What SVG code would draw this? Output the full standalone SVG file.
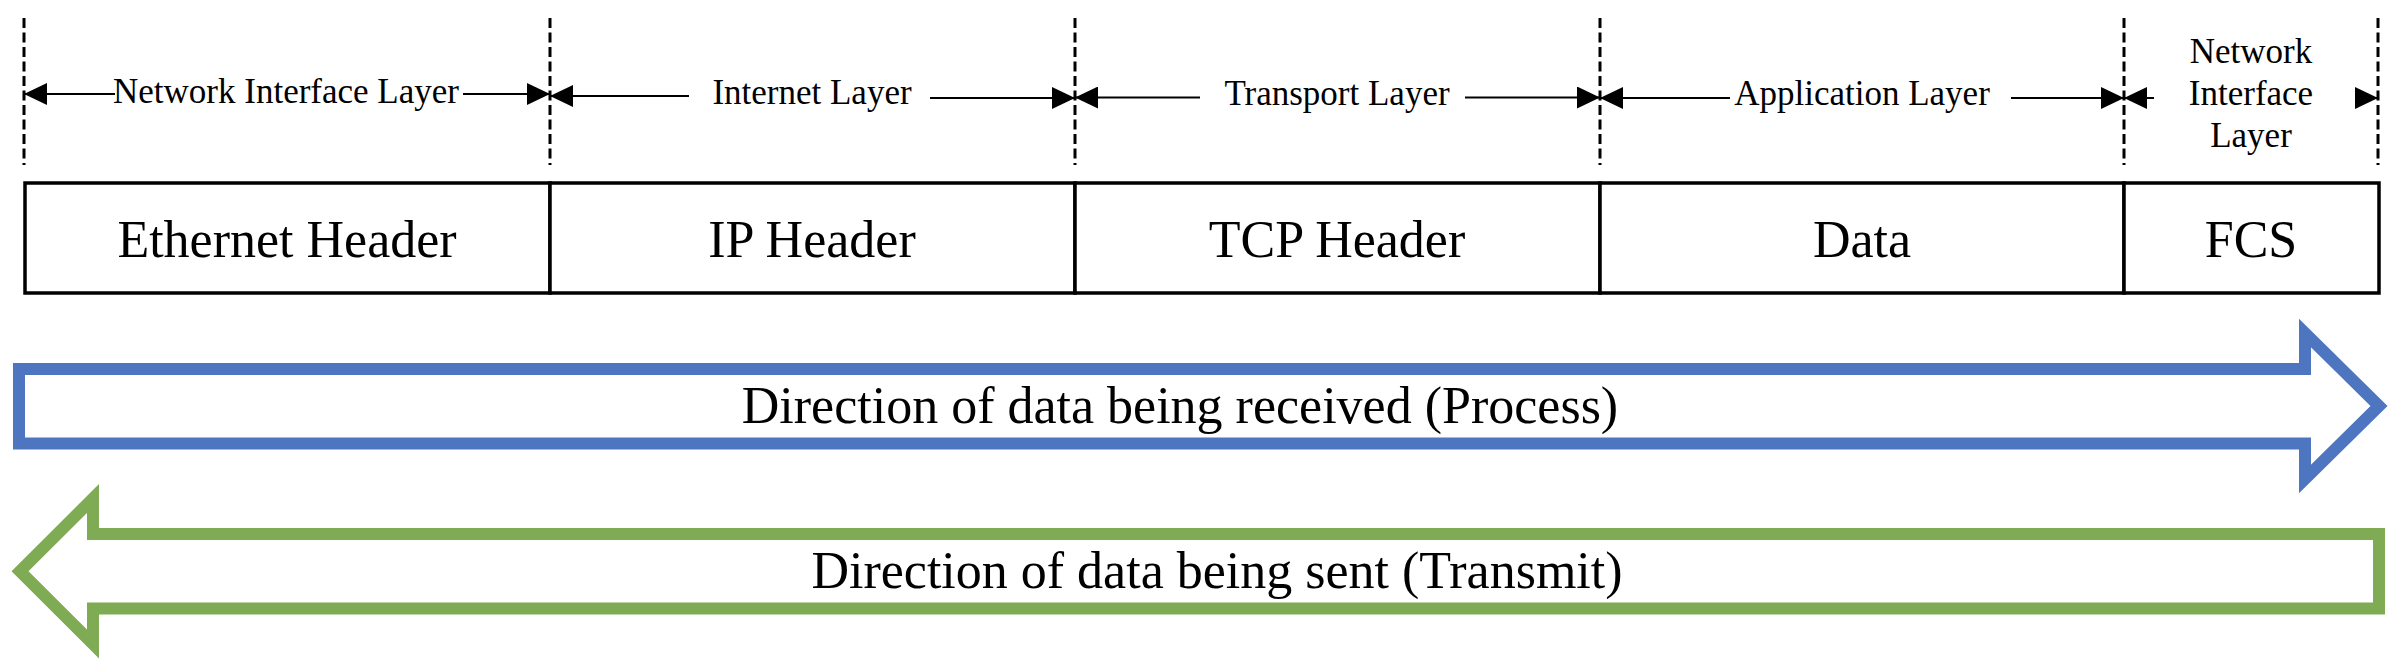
<svg xmlns="http://www.w3.org/2000/svg" width="2402" height="672" viewBox="0 0 2402 672">
<style>
  .lbl { font-family: "Liberation Serif", "Times New Roman", serif; font-size: 35px; fill: #000; text-anchor: middle; }
  .big { font-family: "Liberation Serif", "Times New Roman", serif; font-size: 52px; fill: #000; text-anchor: middle; }
  .dash { stroke: #000; stroke-width: 3; stroke-dasharray: 10 4.5; fill: none; }
  .dim { stroke: #000; stroke-width: 2; fill: none; marker-end: url(#ah); }
  .cell { fill: #fff; stroke: #000; stroke-width: 3.5; }
  .blue { fill: #fff; stroke: #4E75C0; stroke-width: 12; stroke-linejoin: miter; stroke-miterlimit: 10; }
  .green { fill: #fff; stroke: #7FAB55; stroke-width: 12; stroke-linejoin: miter; stroke-miterlimit: 10; }
</style>
<defs>
  <marker id="ah" markerUnits="userSpaceOnUse" markerWidth="23" markerHeight="22" refX="23" refY="11" orient="auto">
    <path d="M0,0 L23,11 L0,22 z" fill="#000"/>
  </marker>
</defs>
<rect width="2402" height="672" fill="#fff"/>

<g id="guides">
  <line class="dash" x1="24" y1="18" x2="24" y2="165"/>
  <line class="dash" x1="550" y1="18" x2="550" y2="165"/>
  <line class="dash" x1="1075" y1="18" x2="1075" y2="165"/>
  <line class="dash" x1="1600" y1="18" x2="1600" y2="165"/>
  <line class="dash" x1="2124" y1="18" x2="2124" y2="165"/>
  <line class="dash" x1="2378" y1="18" x2="2378" y2="165"/>
</g>

<g id="connectors">
  <line class="dim" x1="115" y1="94" x2="24" y2="94"/>
  <line class="dim" x1="463" y1="94" x2="550" y2="94"/>
  <line class="dim" x1="689" y1="96" x2="550" y2="96"/>
  <line class="dim" x1="930" y1="98" x2="1075" y2="98"/>
  <line class="dim" x1="1200" y1="97.5" x2="1075" y2="97.5"/>
  <line class="dim" x1="1465" y1="97.5" x2="1600" y2="97.5"/>
  <line class="dim" x1="1730" y1="98" x2="1600" y2="98"/>
  <line class="dim" x1="2011" y1="98" x2="2124" y2="98"/>
  <line class="dim" x1="2154" y1="98" x2="2124" y2="98"/>
  <line class="dim" x1="2355" y1="98" x2="2378" y2="98"/>
</g>

<g id="layer-labels">
  <text class="lbl" x="286" y="103">Network Interface Layer</text>
  <text class="lbl" x="812" y="104">Internet Layer</text>
  <text class="lbl" x="1337" y="105">Transport Layer</text>
  <text class="lbl" x="1862" y="105">Application Layer</text>
  <text class="lbl" x="2251" y="63">Network</text>
  <text class="lbl" x="2251" y="105">Interface</text>
  <text class="lbl" x="2251" y="147">Layer</text>
</g>

<g id="ethernet-header">
  <rect class="cell" x="25" y="183" width="525" height="110"/>
  <text class="big" x="287" y="257">Ethernet Header</text>
</g>
<g id="ip-header">
  <rect class="cell" x="550" y="183" width="525" height="110"/>
  <text class="big" x="812" y="257">IP Header</text>
</g>
<g id="tcp-header">
  <rect class="cell" x="1075" y="183" width="525" height="110"/>
  <text class="big" x="1337" y="257">TCP Header</text>
</g>
<g id="data">
  <rect class="cell" x="1600" y="183" width="524" height="110"/>
  <text class="big" x="1862" y="257">Data</text>
</g>
<g id="fcs">
  <rect class="cell" x="2124" y="183" width="255" height="110"/>
  <text class="big" x="2251" y="257">FCS</text>
</g>

<g id="receive-arrow">
  <polygon class="blue" points="19,369 2305,369 2305,333 2379,406 2305,479 2305,443.5 19,443.5"/>
  <text class="big" x="1180" y="423">Direction of data being received (Process)</text>
</g>

<g id="send-arrow">
  <polygon class="green" points="2379,534 93,534 93,498.5 20,571.25 93,644 93,608.5 2379,608.5"/>
  <text class="big" x="1217" y="588">Direction of data being sent (Transmit)</text>
</g>
</svg>
